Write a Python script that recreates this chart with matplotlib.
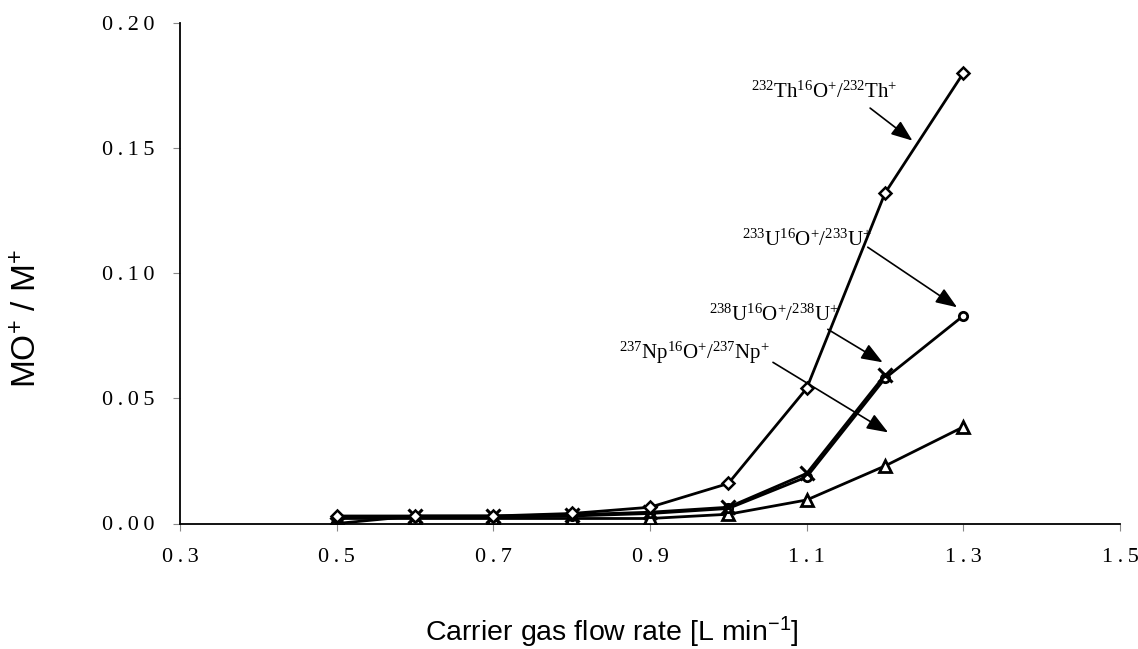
import matplotlib
matplotlib.use("Agg")
import matplotlib.pyplot as plt

# Data
flow_rate = [0.5, 0.6, 0.7, 0.8, 0.9, 1.0, 1.1, 1.2, 1.3]
th232 = [0.003, 0.003, 0.003, 0.004, 0.0065, 0.016, 0.054, 0.132, 0.180]
u233 = [0.0025, 0.0025, 0.0025, 0.003, 0.004, 0.006, 0.0186, 0.058, 0.083]
flow_rate_u238 = [0.5, 0.6, 0.7, 0.8, 0.9, 1.0, 1.1, 1.2]
u238 = [0.0, 0.003, 0.003, 0.0035, 0.0045, 0.0065, 0.020, 0.0594]
np237 = [0.002, 0.002, 0.002, 0.002, 0.002, 0.0037, 0.0094, 0.023, 0.0386]

x_ticks = [0.3, 0.5, 0.7, 0.9, 1.1, 1.3, 1.5]
x_tick_labels = ["0.3", "0.5", "0.7", "0.9", "1.1", "1.3", "1.5"]
y_ticks = [0.00, 0.05, 0.10, 0.15, 0.20]
y_tick_labels = ["0.00", "0.05", "0.10", "0.15", "0.20"]

labels = {
    "th": r"$\mathregular{^{232}}$Th$\mathregular{^{16}}$O$\mathregular{^{+}}$/$\mathregular{^{232}}$Th$\mathregular{^{+}}$",
    "u233": r"$\mathregular{^{233}}$U$\mathregular{^{16}}$O$\mathregular{^{+}}$/$\mathregular{^{233}}$U$\mathregular{^{+}}$",
    "u238": r"$\mathregular{^{238}}$U$\mathregular{^{16}}$O$\mathregular{^{+}}$/$\mathregular{^{238}}$U$\mathregular{^{+}}$",
    "np": r"$\mathregular{^{237}}$Np$\mathregular{^{16}}$O$\mathregular{^{+}}$/$\mathregular{^{237}}$Np$\mathregular{^{+}}$",
}
# text position, arrow start, arrow end (data coords)
annots = [
    ("th", (1.122, 0.1724), (1.181, 0.166), (1.235, 0.153)),
    ("u233", (1.100, 0.1132), (1.178, 0.1104), (1.292, 0.0864)),
    ("u238", (1.058, 0.0832), (1.127, 0.0776), (1.197, 0.0644)),
    ("np", (0.957, 0.0680), (1.057, 0.0644), (1.204, 0.0364)),
]


def spaced(s):
    return "\u2009".join(s)


fig = plt.figure(figsize=(11.38, 6.49), dpi=100)
ax = fig.add_axes([180 / 1138, 1 - 523.5 / 649, (1120 - 180) / 1138, (523.5 - 23) / 649])

lw = 2.0
ms = 7
ax.plot(flow_rate, np237, color="black", lw=lw, marker="^", ms=ms + 2,
        mfc="white", mec="black", mew=2.0, zorder=3)
ax.plot(flow_rate, u233, color="black", lw=lw, marker="o", ms=ms - 1,
        mfc="white", mec="black", mew=2.0, zorder=4)
ax.plot(flow_rate_u238, u238, color="black", lw=lw, marker="x", ms=ms + 3,
        mec="black", mew=2.2, zorder=5)
ax.plot(flow_rate, th232, color="black", lw=lw, marker="D", ms=ms - 1,
        mfc="white", mec="black", mew=1.8, zorder=6)

for key, tpos, a0, a1 in annots:
    ax.text(tpos[0], tpos[1], labels[key], family="Liberation Serif",
            fontsize=15, ha="center", va="center", zorder=7)
    ax.annotate("", xy=a1, xytext=a0,
                arrowprops=dict(arrowstyle="-|>,head_length=1.3,head_width=0.5",
                                color="black", lw=1.2, shrinkA=0, shrinkB=0),
                zorder=7)

ax.set_xlim(0.3, 1.5)
ax.set_ylim(0.0, 0.20)
ax.set_xticks(x_ticks)
ax.set_xticklabels([spaced(s) for s in x_tick_labels])
ax.set_yticks(y_ticks)
ax.set_yticklabels([spaced(s) for s in y_tick_labels])

for s in ["top", "right"]:
    ax.spines[s].set_visible(False)
for s in ["left", "bottom"]:
    ax.spines[s].set_linewidth(1.3)

ax.tick_params(axis="both", direction="out", length=5, width=0.8, color="#888888",
               labelsize=16)
ax.tick_params(axis="x", pad=13)
ax.tick_params(axis="y", pad=13)
for lab in ax.get_xticklabels() + ax.get_yticklabels():
    lab.set_family("Liberation Serif")

ax.set_xlabel(r"Carrier gas flow rate [L min$\mathregular{^{-1}}$]",
              family="Liberation Sans", fontsize=20.5)
ax.xaxis.set_label_coords(0.4596, -0.2168)
ax.xaxis.label.set_va("center")
ax.set_ylabel(r"MO$\mathregular{^{+}}$ / M$\mathregular{^{+}}$",
              family="Liberation Sans", fontsize=24)
ax.yaxis.set_label_coords(-0.1617, 0.41)
ax.yaxis.label.set_va("center")

fig.savefig("out.png", dpi=100)
